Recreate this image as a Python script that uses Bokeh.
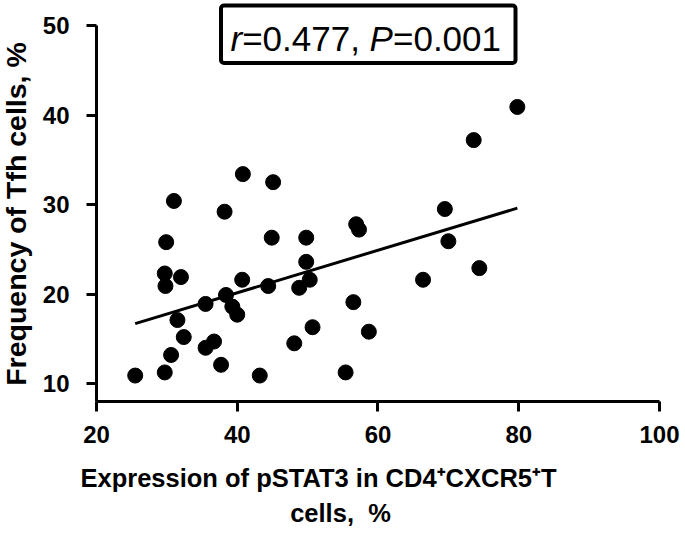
import math
from bokeh.plotting import figure
from bokeh.models import Range1d, FixedTicker, Label, BoxAnnotation, ColumnDataSource
from bokeh.embed import file_html
from bokeh.resources import INLINE

# ---- data ----
pstat3 = [25.5, 29.7, 30.6, 32.4, 31.5, 29.9, 31.0, 29.7, 29.8, 32.0,
          35.5, 35.5, 36.7, 37.7, 38.2, 40.8, 45.1, 44.9, 38.4, 39.3,
          40.0, 40.7, 43.2, 44.4, 48.1, 48.8, 50.3, 49.8, 49.8, 50.7,
          55.4, 56.5, 56.9, 57.3, 58.7, 69.5, 70.0, 74.4, 66.4, 73.6, 79.8]
tfh = [10.9, 11.25, 13.2, 15.2, 17.1, 25.8, 30.4, 22.3, 20.9, 21.9,
       18.9, 14.0, 14.7, 12.1, 29.2, 33.4, 32.5, 26.3, 19.9, 18.6,
       17.7, 21.6, 10.9, 20.9, 14.5, 20.7, 21.6, 23.6, 26.3, 16.3,
       11.25, 19.1, 27.8, 27.2, 15.8, 29.5, 25.9, 22.9, 21.6, 37.2, 40.9]
fit_x = [25.5, 79.8]
fit_y = [16.7, 29.6]
x_ticks = [20, 40, 60, 80, 100]
y_ticks = [10, 20, 30, 40, 50]
stat_text = ["r", "=0.477,", "P", "=0.001"]
x_title_1 = "Expression of pSTAT3 in CD4\u207aCXCR5\u207aT"
x_title_2 = "cells,\u00a0 %"
y_title = "Frequency of Tfh cells, %"

FONT = "Liberation Sans"

# frame fills the whole canvas; axes are pinned at x=20 and y=8
p = figure(width=685, height=538, output_backend="svg", toolbar_location=None,
           x_range=Range1d(6.359, 103.695), y_range=Range1d(-7.30, 52.79),
           min_border_left=0, min_border_right=0, min_border_top=0,
           min_border_bottom=0, background_fill_color="white",
           border_fill_color="white")
p.outline_line_color = None
p.xgrid.visible = False
p.ygrid.visible = False

for ax, ticks, bounds, loc in ((p.xaxis[0], x_ticks, (20, 100), 8),
                               (p.yaxis[0], y_ticks, (8, 50), 20)):
    ax.fixed_location = loc
    ax.ticker = FixedTicker(ticks=ticks)
    ax.bounds = bounds
    ax.axis_line_width = 3
    ax.axis_line_color = "black"
    ax.major_tick_line_width = 3
    ax.major_tick_line_color = "black"
    ax.major_tick_out = 10
    ax.major_tick_in = 0
    ax.minor_tick_line_color = None
    ax.major_label_text_font = FONT
    ax.major_label_text_font_style = "bold"
    ax.major_label_text_font_size = "24px"
    ax.major_label_text_color = "black"
p.xaxis[0].major_label_standoff = 14
p.yaxis[0].major_label_standoff = 17

src = ColumnDataSource(dict(x=pstat3, y=tfh))
p.scatter("x", "y", source=src, size=15, color="black")
p.line(fit_x, fit_y, line_width=3, color="black")

# stats box
p.add_layout(BoxAnnotation(left=37.69, right=79.54, bottom=45.81, top=52.23,
                           fill_color=None, fill_alpha=0, line_color="black",
                           line_alpha=1, line_width=4, border_radius=3))
pos_x = [39.04, 40.70, 58.81, 62.13]
styles = ["italic", "normal", "italic", "normal"]
for t, xx, st in zip(stat_text, pos_x, styles):
    p.add_layout(Label(x=xx, y=48.5, text=t, text_font=FONT, text_font_size="35px",
                       text_font_style=st, text_color="black",
                       text_align="left", text_baseline="alphabetic"))

# axis titles
p.add_layout(Label(x=51.55, y=-0.49, text=x_title_1, text_font=FONT,
                   text_font_size="25.5px", text_font_style="bold", text_color="black",
                   text_align="center", text_baseline="alphabetic"))
p.add_layout(Label(x=54.67, y=-4.40, text=x_title_2, text_font=FONT,
                   text_font_size="25.5px", text_font_style="bold", text_color="black",
                   text_align="center", text_baseline="alphabetic"))
p.add_layout(Label(x=8.632, y=28.94, text=y_title, angle=math.pi / 2, text_font=FONT,
                   text_font_size="28.5px", text_font_style="bold", text_color="black",
                   text_align="center", text_baseline="alphabetic"))

open("out.html", "w").write(file_html(p, INLINE))
